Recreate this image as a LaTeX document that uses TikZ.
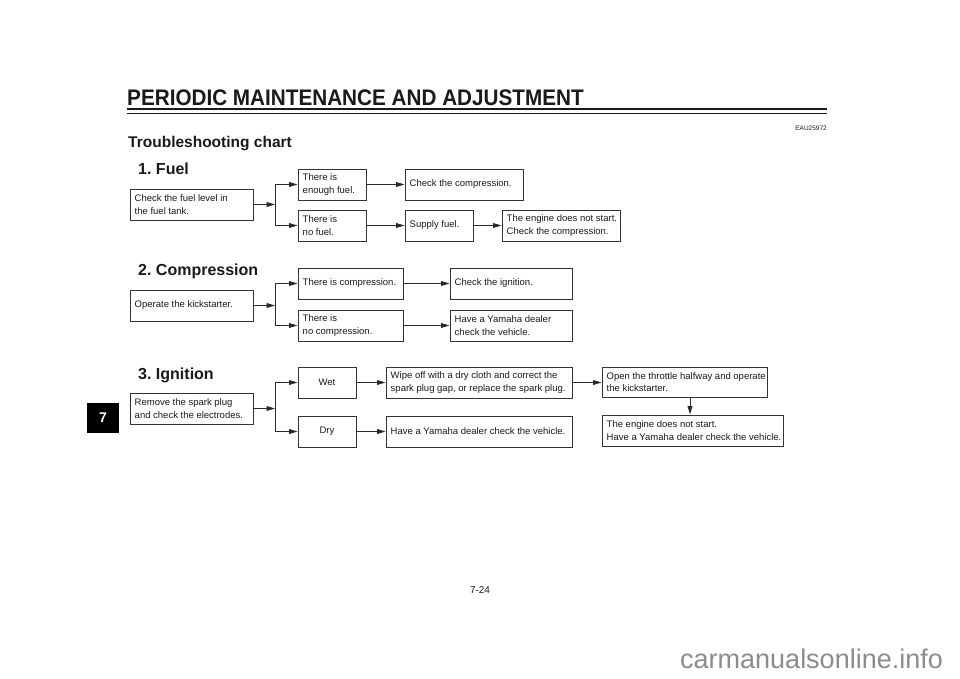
\documentclass[tikz,border=0pt]{standalone}
\usepackage{fontspec}
\setmainfont{Liberation Sans}
\usetikzlibrary{arrows.meta}
\frenchspacing
\definecolor{boxc}{HTML}{333333}
\definecolor{linec}{HTML}{2A2A2A}
\definecolor{txtc}{HTML}{1A1A1A}
\definecolor{wmc}{HTML}{8C8C8C}
\newcommand\boxfont{\fontsize{9.5}{12.3}\selectfont}
\tikzset{
  box/.style={draw=boxc, line width=0.95pt, inner sep=0pt},
  boxtext/.style={inner xsep=5pt, inner ysep=0pt, align=left, font=\boxfont, text=txtc},
  arr/.style={draw=linec, line width=0.95pt, -{Triangle[length=8.5pt,width=4.8pt]}},
  ln/.style={draw=linec, line width=0.95pt},
  head/.style={anchor=base west, inner sep=0pt, font=\fontsize{16}{18}\bfseries\selectfont, text=txtc},
}
% \bx{name}{x1}{y1}{x2}{y2}{text}  (left aligned text)
\newcommand\bx[6]{%
  \pgfmathsetmacro\bw{#4-#2}\pgfmathsetmacro\bh{#5-#3}%
  \pgfmathsetmacro\bcx{(#2+#4)/2}\pgfmathsetmacro\bcy{(#3+#5)/2}%
  \node[box,minimum width=\bw pt,minimum height=\bh pt] (#1) at (\bcx,\bcy) {};
  \node[boxtext,anchor=west] (#1t) at (#1.west) {#6};}
% \cbx: centred text
\newcommand\cbx[6]{%
  \pgfmathsetmacro\bw{#4-#2}\pgfmathsetmacro\bh{#5-#3}%
  \pgfmathsetmacro\bcx{(#2+#4)/2}\pgfmathsetmacro\bcy{(#3+#5)/2}%
  \node[box,minimum width=\bw pt,minimum height=\bh pt] (#1) at (\bcx,\bcy) {};
  \node[boxtext,align=center] (#1t) at (#1.center) {#6};}
\begin{document}
\begin{tikzpicture}[x=1pt,y=-1pt]
\useasboundingbox (0,0) rectangle (960,679);
\fill[white] (0,0) rectangle (960,679);
% header
\node[anchor=base west, inner sep=0pt, font=\fontsize{22.5}{24}\bfseries\selectfont, text=txtc] (title) at (127,106) {\scalebox{0.92}[1]{PERIODIC MAINTENANCE AND ADJUSTMENT}};
\draw[line width=2pt, txtc] (127,109.5) -- (827,109.5);
\draw[line width=0.9pt, txtc] (127,113) -- (827,113);
\node[anchor=base east, inner sep=0pt, font=\fontsize{6.5}{7}\selectfont, text=txtc] (code) at (827,131) {EAU25972};
\node[anchor=base west, inner sep=0pt, font=\fontsize{15.5}{18}\bfseries\selectfont, text=txtc] (sub) at (128,148) {Troubleshooting chart};
% side tab
\node[fill=black, minimum width=32pt, minimum height=30pt, inner sep=0pt, text=white, font=\fontsize{14}{16}\bfseries\selectfont] (tab) at (103,418) {7};
% page number and watermark
\node[anchor=base, inner sep=0pt, font=\fontsize{10}{12}\selectfont, text=txtc] (page) at (480,593) {7-24};
\node[anchor=base west, inner sep=0pt, font=\fontsize{27}{29}\selectfont, text=wmc] (wm) at (680,668) {carmanualsonline.info};

% 1. Fuel
\node[head] (h1) at (138,175) {1. Fuel};
\bx{A}{130}{189}{253}{220}{Check the fuel level in\\the fuel tank.}
\bx{B1}{298}{169}{366}{200}{There is\\enough fuel.}
\bx{B2}{298}{210}{366}{241}{There is\\no fuel.}
\bx{C1}{405}{169}{523}{200}{Check the compression.}
\bx{C2}{405}{210}{473}{241}{Supply fuel.}
\bx{D2}{502}{210}{620}{241}{The engine does not start.\\Check the compression.}
\coordinate (fb) at (275,0);
\draw[arr] (A.east) -- (A.east -| fb);
\draw[ln] (B1.west -| fb) -- (B2.west -| fb);
\draw[arr] (B1.west -| fb) -- (B1.west);
\draw[arr] (B2.west -| fb) -- (B2.west);
\draw[arr] (B1.east) -- (C1.west);
\draw[arr] (B2.east) -- (C2.west);
\draw[arr] (C2.east) -- (D2.west);

% 2. Compression
\node[head] (h2) at (138,275) {2. Compression};
\bx{E}{130}{290}{253}{321}{Operate the kickstarter.}
\bx{F1}{298}{268}{403}{299}{There is compression.}
\bx{F2}{298}{310}{403}{341}{There is\\no compression.}
\bx{G1}{450}{268}{572}{299}{Check the ignition.}
\bx{G2}{450}{310}{572}{341}{Have a Yamaha dealer\\check the vehicle.}
\coordinate (cb) at (275,0);
\draw[arr] (E.east) -- (E.east -| cb);
\draw[ln] (F1.west -| cb) -- (F2.west -| cb);
\draw[arr] (F1.west -| cb) -- (F1.west);
\draw[arr] (F2.west -| cb) -- (F2.west);
\draw[arr] (F1.east) -- (G1.west);
\draw[arr] (F2.east) -- (G2.west);

% 3. Ignition
\node[head] (h3) at (138,379) {3. Ignition};
\bx{H}{130}{393}{253}{424}{Remove the spark plug\\and check the electrodes.}
\cbx{I1}{298}{367}{356}{398}{Wet}
\cbx{I2}{298}{416}{356}{447}{Dry}
\bx{J1}{386}{367}{572}{398}{Wipe off with a dry cloth and correct the\\spark plug gap, or replace the spark plug.}
\bx{J2}{386}{416}{572}{447}{Have a Yamaha dealer check the vehicle.}
\bx{K1}{602}{367}{767}{397}{Open the throttle halfway and operate\\the kickstarter.}
\bx{K2}{602}{415}{783}{446}{The engine does not start.\\Have a Yamaha dealer check the vehicle.}
\coordinate (ib) at (275,0);
\coordinate (kx) at (690,0);
\draw[arr] (H.east) -- (H.east -| ib);
\draw[ln] (I1.west -| ib) -- (I2.west -| ib);
\draw[arr] (I1.west -| ib) -- (I1.west);
\draw[arr] (I2.west -| ib) -- (I2.west);
\draw[arr] (I1.east) -- (J1.west);
\draw[arr] (I2.east) -- (J2.west);
\draw[arr] (J1.east) -- (J1.east -| K1.west);
\draw[arr] (K1.south -| kx) -- (K2.north -| kx);
\end{tikzpicture}
\end{document}
